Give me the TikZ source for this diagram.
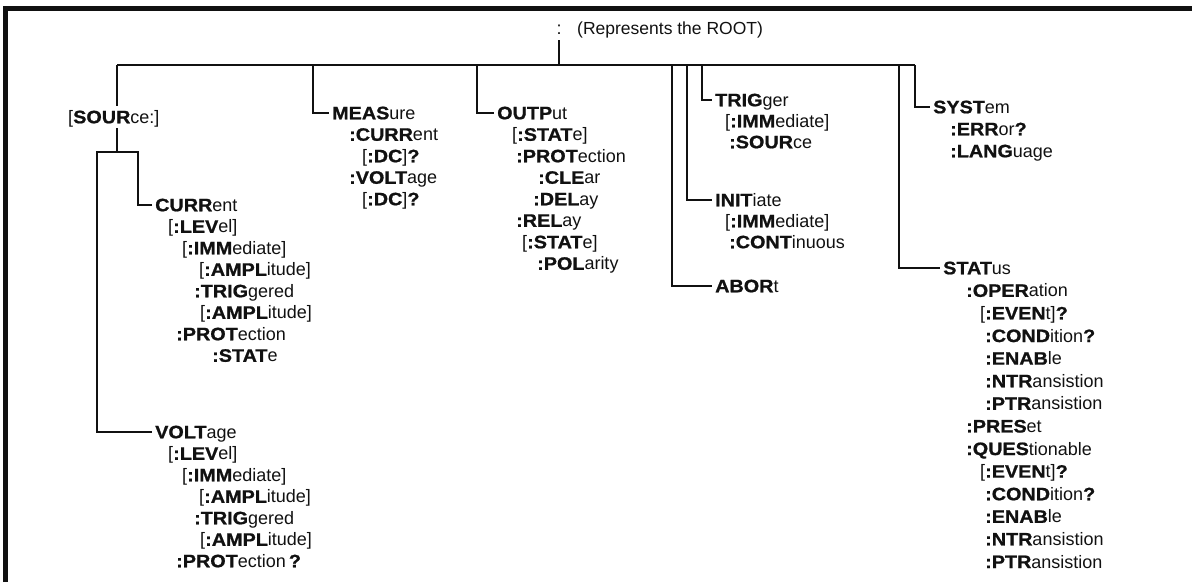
\documentclass[tikz,border=0pt]{standalone}
\usepackage{fontspec}
\setmainfont{Liberation Sans}[BoldFeatures={FakeStretch=1.1,FakeBold=1}]
\usepackage{tikz}
\usetikzlibrary{calc}
\definecolor{InkBlack}{HTML}{111111}
\tikzset{
  item/.style={anchor=west, inner sep=0pt, text height=12.5pt, text depth=0pt, text=InkBlack, font=\fontsize{18}{21}\selectfont},
  wire/.style={draw=InkBlack, line width=1.4pt},
  frameline/.style={draw=InkBlack, line width=4.5pt}
}
\newcommand{\scpi}[2]{\textbf{#1}#2}

\begin{document}
\begin{tikzpicture}[x=1pt, y=-1pt]
\useasboundingbox (0,0) rectangle (1192,582);
\draw[frameline] (5.5,582) -- (5.5,8.5) -- (1192,8.5);

\node[item, anchor=center] (root) at (559,28) {:};
\node[item, font=\fontsize{17.5}{21}\selectfont] (rootlbl) at (577,28) {(Represents the ROOT)};

\coordinate (bSrc) at (117,65);
\coordinate (bMeas) at (313,65);
\coordinate (bOutp) at (477,65);
\coordinate (bAbor) at (672,65);
\coordinate (bInit) at (687,65);
\coordinate (bTrig) at (702,65);
\coordinate (bStat) at (899,65);
\coordinate (bSyst) at (915,65);
\coordinate (fork) at (117,152);

\node[item] (src) at (68,117) {[\scpi{SOUR}{ce:}]};

\node[item] (cur) at (155,205) {\scpi{CURR}{ent}};
\node[item] (curlev) at (168,226.5) {[\scpi{:LEV}{el}]};
\node[item] (curimm) at (182,248) {[\scpi{:IMM}{ediate}]};
\node[item] (curamp) at (199,269.5) {[\scpi{:AMPL}{itude}]};
\node[item] (curtrg) at (194,291) {\scpi{:TRIG}{gered}};
\node[item] (curtamp) at (200,312.5) {[\scpi{:AMPL}{itude}]};
\node[item] (curprot) at (176,334) {\scpi{:PROT}{ection}};
\node[item] (curstate) at (212,355.5) {\scpi{:STAT}{e}};

\node[item] (vol) at (155,432) {\scpi{VOLT}{age}};
\node[item] (vollev) at (168,453.5) {[\scpi{:LEV}{el}]};
\node[item] (volimm) at (182,475) {[\scpi{:IMM}{ediate}]};
\node[item] (volamp) at (199,496.5) {[\scpi{:AMPL}{itude}]};
\node[item] (voltrg) at (194,518) {\scpi{:TRIG}{gered}};
\node[item] (voltamp) at (200,539.5) {[\scpi{:AMPL}{itude}]};
\node[item] (volprot) at (176,561) {\scpi{:PROT}{ection}\,\textbf{?}};

\node[item] (meas) at (332,113) {\scpi{MEAS}{ure}};
\node[item] (mcur) at (349,134.5) {\scpi{:CURR}{ent}};
\node[item] (mcurdc) at (362,156) {[\textbf{:DC}]\textbf{?}};
\node[item] (mvolt) at (349,177.5) {\scpi{:VOLT}{age}};
\node[item] (mvoltdc) at (362,199) {[\textbf{:DC}]\textbf{?}};

\node[item] (outp) at (497,113) {\scpi{OUTP}{ut}};
\node[item] (ostate) at (512,134.5) {[\scpi{:STAT}{e}]};
\node[item] (oprot) at (516,156) {\scpi{:PROT}{ection}};
\node[item] (oclear) at (538,177.5) {\scpi{:CLE}{ar}};
\node[item] (odelay) at (533,199) {\scpi{:DEL}{ay}};
\node[item] (orelay) at (516,220.5) {\scpi{:REL}{ay}};
\node[item] (orstate) at (522,242) {[\scpi{:STAT}{e}]};
\node[item] (opol) at (537,263.5) {\scpi{:POL}{arity}};

\node[item] (trig) at (715,100) {\scpi{TRIG}{ger}};
\node[item] (timm) at (725,121) {[\scpi{:IMM}{ediate}]};
\node[item] (tsour) at (729,142) {\scpi{:SOUR}{ce}};
\node[item] (init) at (715,200) {\scpi{INIT}{iate}};
\node[item] (iimm) at (725,221) {[\scpi{:IMM}{ediate}]};
\node[item] (icont) at (729,242) {\scpi{:CONT}{inuous}};
\node[item] (abort) at (715,286) {\scpi{ABOR}{t}};

\node[item] (syst) at (933,107) {\scpi{SYST}{em}};
\node[item] (serr) at (950,129) {\scpi{:ERR}{or}\textbf{?}};
\node[item] (slang) at (950,151) {\scpi{:LANG}{uage}};

\node[item] (stat) at (943,268) {\scpi{STAT}{us}};
\node[item] (soper) at (966,290.6) {\scpi{:OPER}{ation}};
\node[item] (soevent) at (980,313.2) {[\scpi{:EVEN}{t}]\textbf{?}};
\node[item] (socond) at (985,335.8) {\scpi{:COND}{ition}\textbf{?}};
\node[item] (soenab) at (985,358.4) {\scpi{:ENAB}{le}};
\node[item] (sontr) at (985,381) {\scpi{:NTR}{ansistion}};
\node[item] (soptr) at (985,403.6) {\scpi{:PTR}{ansistion}};
\node[item] (spres) at (966,426.2) {\scpi{:PRES}{et}};
\node[item] (sques) at (966,448.8) {\scpi{:QUES}{tionable}};
\node[item] (sqevent) at (980,471.4) {[\scpi{:EVEN}{t}]\textbf{?}};
\node[item] (sqcond) at (985,494) {\scpi{:COND}{ition}\textbf{?}};
\node[item] (sqenab) at (985,516.6) {\scpi{:ENAB}{le}};
\node[item] (sqntr) at (985,539.2) {\scpi{:NTR}{ansistion}};
\node[item] (sqptr) at (985,561.8) {\scpi{:PTR}{ansistion}};

\draw[wire] ([yshift=-6pt]root.south) -- (root.south |- bSrc);
\draw[wire] (bSrc) -- (bSyst);
\draw[wire] (bSrc) -- ([yshift=5pt]bSrc |- src.north);
\draw[wire] ([yshift=-5pt]bSrc |- src.south) -- (fork);
\draw[wire] ([xshift=-3pt]cur.west) -| ([xshift=21pt]fork) -- ([xshift=-20pt]fork) |- ([xshift=-3pt]vol.west);
\draw[wire] (bMeas) |- ([xshift=-3pt]meas.west);
\draw[wire] (bOutp) |- ([xshift=-3pt]outp.west);
\draw[wire] (bAbor) |- ([xshift=-3pt]abort.west);
\draw[wire] (bInit) |- ([xshift=-3pt]init.west);
\draw[wire] (bTrig) |- ([xshift=-3pt]trig.west);
\draw[wire] (bStat) |- ([xshift=-3pt]stat.west);
\draw[wire] (bSyst) |- ([xshift=-3pt]syst.west);
\end{tikzpicture}
\end{document}
